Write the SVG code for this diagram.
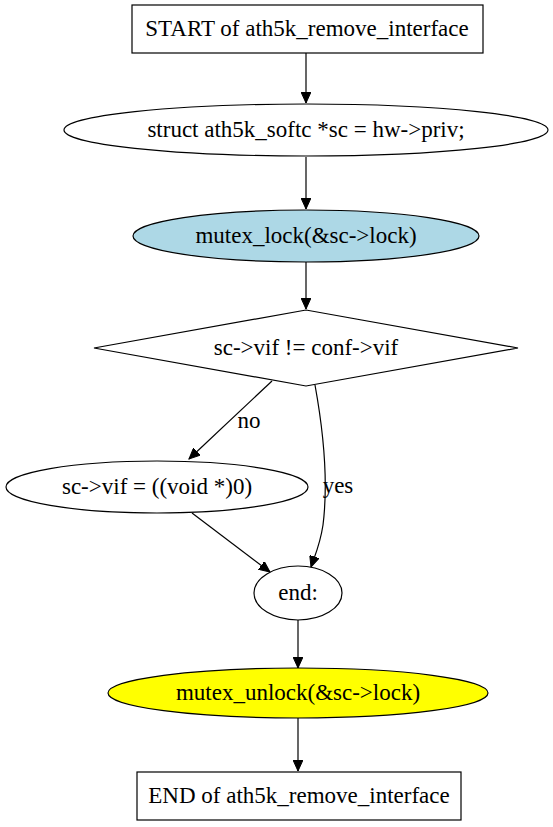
<svg xmlns="http://www.w3.org/2000/svg" width="553" height="827" viewBox="0 0 553 827">
<style>
.n{stroke:#000;stroke-width:1.2}
.t{font-family:"Liberation Serif","Times New Roman",serif;font-size:23px;fill:#000;text-anchor:middle}
.e{fill:none;stroke:#000;stroke-width:1.2}
</style>
<defs>
<marker id="a" markerUnits="userSpaceOnUse" markerWidth="12" markerHeight="10" refX="11" refY="5" orient="auto">
<path d="M0,0 L11,5 L0,10 Z" fill="#000" stroke="#000"/>
</marker>
</defs>
<rect width="553" height="827" fill="#fff"/>
<g id="connectors">
<path class="e" d="M306,53 L306,103" marker-end="url(#a)"/>
<path class="e" d="M306,157 L306,209" marker-end="url(#a)"/>
<path class="e" d="M306,262 L306,309" marker-end="url(#a)"/>
<path class="e" d="M272,381 L189,459" marker-end="url(#a)"/>
<text class="t" x="249" y="428">no</text>
<path class="e" d="M315,385 C325,440 328,485 323,525 C320,545 315,555 311,567" marker-end="url(#a)"/>
<text class="t" x="338" y="493">yes</text>
<path class="e" d="M192,513 L270,572" marker-end="url(#a)"/>
<path class="e" d="M298,620 L298,668" marker-end="url(#a)"/>
<path class="e" d="M298,718 L298,771" marker-end="url(#a)"/>
</g>
<g id="start">
<rect class="n" x="132" y="5" width="351" height="48" fill="#fff"/>
<text class="t" x="307" y="36">START of ath5k_remove_interface</text>
</g>
<g id="decl">
<ellipse class="n" cx="306" cy="130" rx="242" ry="26" fill="#fff"/>
<text class="t" x="306" y="137">struct ath5k_softc *sc = hw-&gt;priv;</text>
</g>
<g id="lock">
<ellipse class="n" cx="306" cy="236" rx="173" ry="26" fill="#add8e6"/>
<text class="t" x="306" y="243">mutex_lock(&amp;sc-&gt;lock)</text>
</g>
<g id="cond">
<polygon class="n" points="94,348 306,310 518,348 306,386" fill="#fff"/>
<text class="t" x="306" y="355">sc-&gt;vif != conf-&gt;vif</text>
</g>
<g id="assign">
<ellipse class="n" cx="157" cy="487" rx="151" ry="26" fill="#fff"/>
<text class="t" x="157" y="494">sc-&gt;vif = ((void *)0)</text>
</g>
<g id="endlabel">
<ellipse class="n" cx="298" cy="593" rx="44" ry="27" fill="#fff"/>
<text class="t" x="298" y="600">end:</text>
</g>
<g id="unlock">
<ellipse class="n" cx="298" cy="693" rx="190" ry="25" fill="#ffff00"/>
<text class="t" x="298" y="700">mutex_unlock(&amp;sc-&gt;lock)</text>
</g>
<g id="end">
<rect class="n" x="137" y="772" width="324" height="48" fill="#fff"/>
<text class="t" x="299" y="803">END of ath5k_remove_interface</text>
</g>
</svg>
